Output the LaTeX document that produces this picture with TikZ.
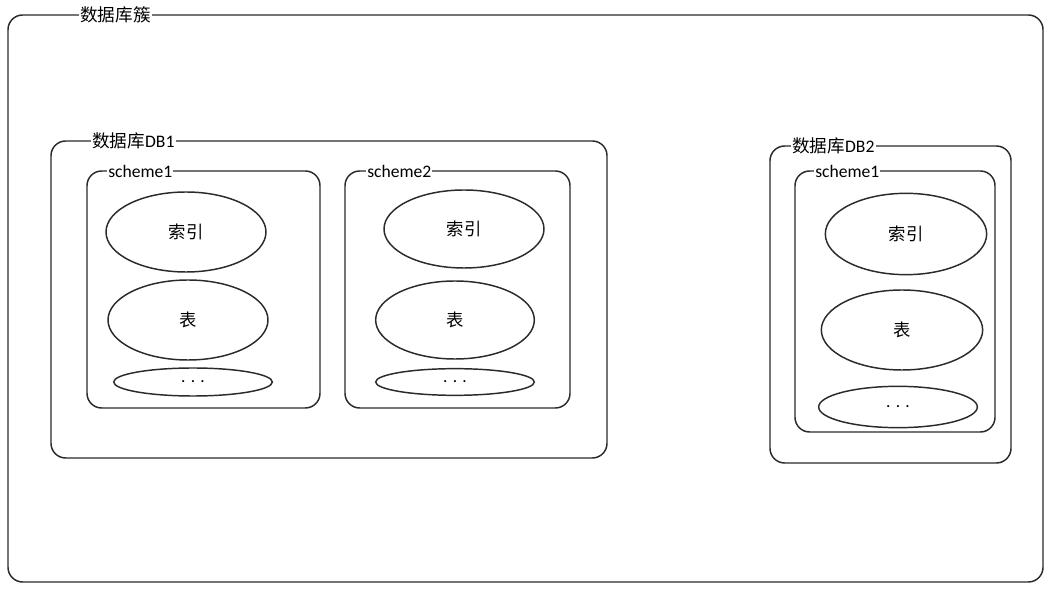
\documentclass[tikz,border=0pt]{standalone}
\usepackage{fontspec}
\setmainfont{Carlito}
\newfontfamily\cjk{Noto Sans CJK SC}
\usetikzlibrary{shapes.geometric,fit}
\definecolor{ln}{HTML}{2A2A2A}
\tikzset{
  box/.style={draw=ln, line width=1.1pt, rounded corners=11pt, inner sep=0pt},
  oval/.style={draw=ln, line width=1.1pt, ellipse, inner sep=0pt, font=\fontsize{13}{15}\selectfont\cjk},
  lbl/.style={fill=white, anchor=west, inner xsep=0.8pt, inner ysep=1pt, font=\fontsize{13.2}{15}\selectfont},
}
\begin{document}
\begin{tikzpicture}[x=0.75pt,y=-0.75pt]
\useasboundingbox (0,0) rectangle (1054,591);
% containers
\coordinate (o1) at (8,15);   \coordinate (o2) at (1043,582);
\coordinate (d1a) at (51,141); \coordinate (d1b) at (607,458);
\coordinate (s1a) at (87,171); \coordinate (s1b) at (320,408);
\coordinate (s2a) at (345,171); \coordinate (s2b) at (570,408);
\coordinate (d2a) at (770,146); \coordinate (d2b) at (1011,463);
\coordinate (s3a) at (795,171); \coordinate (s3b) at (995,432);
\node[box, fit=(o1)(o2)] (cluster) {};
\node[box, fit=(d1a)(d1b)] (db1) {};
\node[box, fit=(s1a)(s1b)] (sc11) {};
\node[box, fit=(s2a)(s2b)] (sc12) {};
\node[box, fit=(d2a)(d2b)] (db2) {};
\node[box, fit=(s3a)(s3b)] (sc21) {};
% labels
\node[lbl] (lc) at (79,15) {\cjk 数据库簇};
\node[lbl] (ld1) at (91,141) {{\cjk 数据库}DB1};
\node[lbl] (ls11) at (107,171) {scheme1};
\node[lbl] (ls12) at (366,171) {scheme2};
\node[lbl] (ld2) at (791,146) {{\cjk 数据库}DB2};
\node[lbl] (ls21) at (814,171) {scheme1};
% ellipses
\node[oval, minimum width=120pt, minimum height=60pt] (e1) at (186,232) {索引};
\node[oval, minimum width=120pt, minimum height=60pt] (e2) at (188,320) {表};
\node[oval, minimum width=119pt, minimum height=21pt] (e3) at (193,382) {\fontspec{Carlito}. . .};
\node[oval, minimum width=120pt, minimum height=58.5pt] (e4) at (464,229) {索引};
\node[oval, minimum width=119pt, minimum height=58.5pt] (e5) at (455,320) {表};
\node[oval, minimum width=119pt, minimum height=20pt] (e6) at (455,382) {\fontspec{Carlito}. . .};
\node[oval, minimum width=121pt, minimum height=61pt] (e7) at (906,234) {索引};
\node[oval, minimum width=121pt, minimum height=60pt] (e8) at (902,330) {表};
\node[oval, minimum width=119pt, minimum height=31pt] (e9) at (898,407) {\fontspec{Carlito}. . .};
\end{tikzpicture}
\end{document}
